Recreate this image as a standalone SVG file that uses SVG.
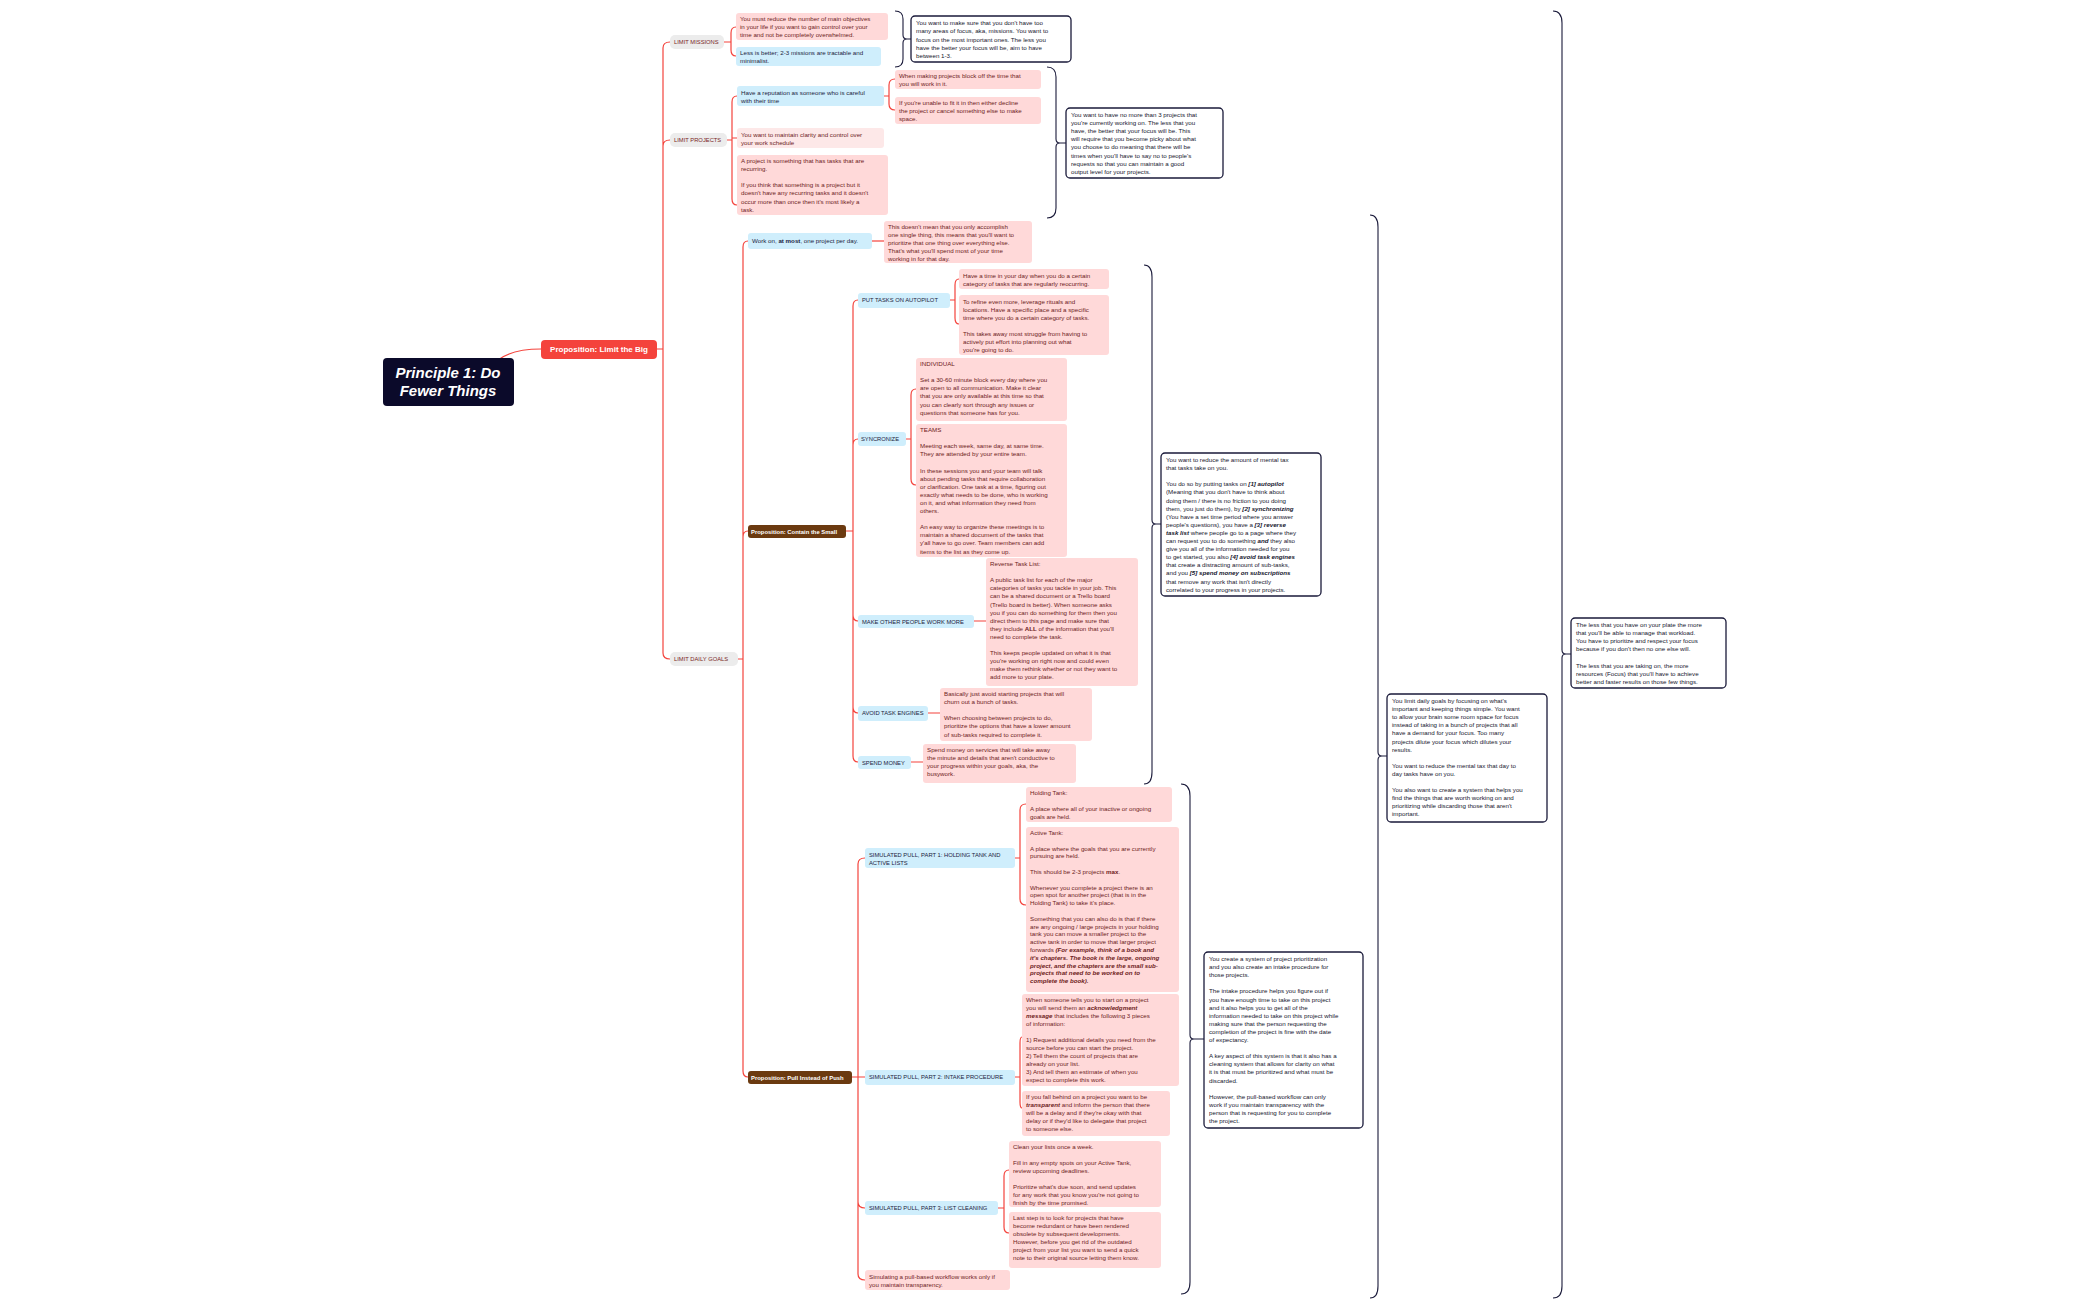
<svg xmlns="http://www.w3.org/2000/svg" width="2099" height="1300" viewBox="0 0 2099 1300">
<style>
text{font-family:"Liberation Sans",Arial,sans-serif;font-size:6.2px}
.p{fill:#ffd9d9}.pl{fill:#fde8e8}.b{fill:#cfeefc}.g{fill:#ececec}
.tp{fill:#6e1c1c}.tb{fill:#1b2340}.tg{fill:#7a1f1f}
.c{fill:#fff;stroke:#1a1a3a;stroke-width:1.3}
.tc{fill:#16162e}
.ln{fill:none;stroke:#f4433c;stroke-width:1.2}
.br{fill:none;stroke:#1a1a3a;stroke-width:1.1}
.bi{font-weight:bold;font-style:italic}.bd{font-weight:bold}
.sm{font-size:5.8px}
</style>
<g id="connectors">
<path class="ln" d="M498 360 Q512 349 541 349"/>
<path class="ln" d="M657 349 H663 M663 349 V48 Q663 42 670 42 M663 349 V146 Q663 140 670 140 M663 349 V653 Q663 659 670 659"/>
<path class="ln" d="M724 42 H731 M731 42 V33 Q731 27 736 27 M731 42 V50 Q731 56 736 56"/>
<path class="ln" d="M727 140 H732 M732 140 V102 Q732 96 737 96 M732 140 V138 H737 M732 140 V199 Q732 205 737 205"/>
<path class="ln" d="M884 96 H889 M889 96 V85 Q889 79 895 79 M889 96 V104 Q889 110 895 110"/>
<path class="ln" d="M738 659 H743 M743 659 V247 Q743 241 748 241 M743 659 V537 Q743 531 748 531 M743 659 V1071 Q743 1077 748 1077"/>
<path class="ln" d="M872 241 H884"/>
<path class="ln" d="M846 531 H853 M853 531 V306 Q853 300 858 300 M853 531 V445 Q853 439 858 439 M853 531 V615 Q853 621 858 621 M853 531 V707 Q853 713 858 713 M853 531 V756 Q853 762 858 762"/>
<path class="ln" d="M950 300 H955 M955 300 V285 Q955 279 959 279 M955 300 V318 Q955 324 959 324"/>
<path class="ln" d="M906 439 H911 M911 439 V395 Q911 389 916 389 M911 439 V479 Q911 485 916 485"/>
<path class="ln" d="M974 621 H986 M928 713 H940 M911 762 H923"/>
<path class="ln" d="M852 1077 H858 M858 1077 V864 Q858 858 865 858 M858 1077 H865 M858 1077 V1202 Q858 1208 865 1208 M858 1077 V1274 Q858 1280 865 1280"/>
<path class="ln" d="M1015 858 H1020 M1020 858 V810 Q1020 804 1026 804 M1020 858 V899 Q1020 905 1026 905"/>
<path class="ln" d="M1015 1077 H1020 M1020 1077 V1043 Q1020 1037 1022 1037 M1020 1077 V1102 Q1020 1108 1022 1108"/>
<path class="ln" d="M998 1208 H1004 M1004 1208 V1176 Q1004 1170 1009 1170 M1004 1208 V1227 Q1004 1233 1009 1233"/>
<path class="br" d="M895 11 Q903 11 903 19 V35 Q903 39 907 39 Q903 39 903 43 V59 Q903 67 895 67 M907 39 H911"/>
<path class="br" d="M1047 67 Q1056 67 1056 77 V139 Q1056 143 1060 143 Q1056 143 1056 147 V208 Q1056 218 1047 218 M1060 143 H1066"/>
<path class="br" d="M1144 265 Q1152 265 1152 277 V520 Q1152 524 1156 524 Q1152 524 1152 528 V772 Q1152 784 1144 784 M1156 524 H1161"/>
<path class="br" d="M1181 784 Q1190 784 1190 796 V1035 Q1190 1039 1194 1039 Q1190 1039 1190 1043 V1282 Q1190 1294 1181 1294 M1194 1039 H1204"/>
<path class="br" d="M1370 215 Q1378 215 1378 227 V752 Q1378 756 1382 756 Q1378 756 1378 760 V1286 Q1378 1298 1370 1298 M1382 756 H1387"/>
<path class="br" d="M1553 11 Q1562 11 1562 23 V650 Q1562 654 1566 654 Q1562 654 1562 658 V1286 Q1562 1298 1553 1298 M1566 654 H1571"/>
</g>
<g id="root"><rect x="383" y="358" width="131" height="48" rx="4" fill="#0b0a2a"/>
<text x="448" y="378" text-anchor="middle" fill="#fff" class="bi" style="font-size:15px">Principle 1: Do</text>
<text x="448" y="396" text-anchor="middle" fill="#fff" class="bi" style="font-size:15px">Fewer Things</text></g>
<g id="limit-big"><rect x="541" y="340" width="116" height="19" rx="4" fill="#f4433c"/>
<text x="599" y="352" text-anchor="middle" fill="#fff" class="bd" style="font-size:8px">Proposition: Limit the Big</text></g>
<g id="limit-missions"><rect class="g" x="670" y="35" width="54" height="14" rx="5"/><text class="tg sm" x="674" y="44.3">LIMIT MISSIONS</text></g>
<g id="limit-projects"><rect class="g" x="670" y="133" width="57" height="14" rx="5"/><text class="tg sm" x="674" y="142.3">LIMIT PROJECTS</text></g>
<g id="limit-daily"><rect class="g" x="670" y="652" width="68" height="14" rx="5"/><text class="tg sm" x="674" y="661.3">LIMIT DAILY GOALS</text></g>
<g id="m1"><rect class="p" x="736" y="13" width="152" height="27" rx="3"/><text class="tp" x="740" y="21"><tspan x="740">You must reduce the number of main objectives</tspan><tspan x="740" dy="8.1">in your life if you want to gain control over your</tspan><tspan x="740" dy="8.1">time and not be completely overwhelmed.</tspan></text></g>
<g id="m2"><rect class="b" x="736" y="47" width="145" height="19" rx="3"/><text class="tb" x="740" y="55"><tspan x="740">Less is better; 2-3 missions are tractable and</tspan><tspan x="740" dy="8.1">minimalist.</tspan></text></g>
<g id="p1"><rect class="b" x="737" y="86" width="147" height="20" rx="3"/><text class="tb" x="741" y="94.5"><tspan x="741">Have a reputation as someone who is careful</tspan><tspan x="741" dy="8.1">with their time</tspan></text></g>
<g id="p1a"><rect class="p" x="895" y="70" width="146" height="19" rx="3"/><text class="tp" x="899" y="78"><tspan x="899">When making projects block off the time that</tspan><tspan x="899" dy="8.1">you will work in it.</tspan></text></g>
<g id="p1b"><rect class="p" x="895" y="97" width="146" height="27" rx="3"/><text class="tp" x="899" y="105"><tspan x="899">If you're unable to fit it in then either decline</tspan><tspan x="899" dy="8.1">the project or cancel something else to make</tspan><tspan x="899" dy="8.1">space.</tspan></text></g>
<g id="p2"><rect class="pl" x="737" y="128" width="147" height="20" rx="3"/><text class="tp" x="741" y="136.5"><tspan x="741">You want to maintain clarity and control over</tspan><tspan x="741" dy="8.1">your work schedule</tspan></text></g>
<g id="p3"><rect class="p" x="737" y="155" width="151" height="60" rx="3"/><text class="tp" x="741" y="163"><tspan x="741">A project is something that has tasks that are</tspan><tspan x="741" dy="8.1">recurring.</tspan><tspan x="741" dy="16.2">If you think that something is a project but it</tspan><tspan x="741" dy="8.1">doesn't have any recurring tasks and it doesn't</tspan><tspan x="741" dy="8.1">occur more than once then it's most likely a</tspan><tspan x="741" dy="8.1">task.</tspan></text></g>
<g id="d1"><rect class="b" x="748" y="233" width="124" height="16" rx="3"/><text class="tb" x="752" y="243.3">Work on, <tspan class="bd">at most</tspan>, one project per day.</text></g>
<g id="d1a"><rect class="p" x="884" y="221" width="148" height="42" rx="3"/><text class="tp" x="888" y="229"><tspan x="888">This doesn't mean that you only accomplish</tspan><tspan x="888" dy="8.1">one single thing, this means that you'll want to</tspan><tspan x="888" dy="8.1">prioritize that one thing over everything else.</tspan><tspan x="888" dy="8.1">That's what you'll spend most of your time</tspan><tspan x="888" dy="8.1">working in for that day.</tspan></text></g>
<g id="contain"><rect x="748" y="525" width="98" height="13" rx="3" fill="#6b3a10"/><text x="751" y="534" fill="#fff" class="bd" style="font-size:5.9px">Proposition: Contain the Small</text></g>
<g id="auto"><rect class="b" x="858" y="293" width="92" height="15" rx="3"/><text class="tb sm" x="862" y="302.3">PUT TASKS ON AUTOPILOT</text></g>
<g id="auto1"><rect class="p" x="959" y="269" width="150" height="20" rx="3"/><text class="tp" x="963" y="277.5"><tspan x="963">Have a time in your day when you do a certain</tspan><tspan x="963" dy="8.1">category of tasks that are regularly reocurring.</tspan></text></g>
<g id="auto2"><rect class="p" x="959" y="295" width="150" height="60" rx="3"/><text class="tp" x="963" y="303.5"><tspan x="963">To refine even more, leverage rituals and</tspan><tspan x="963" dy="8.1">locations. Have a specific place and a specific</tspan><tspan x="963" dy="8.1">time where you do a certain category of tasks.</tspan><tspan x="963" dy="16.2">This takes away most struggle from having to</tspan><tspan x="963" dy="8.1">actively put effort into planning out what</tspan><tspan x="963" dy="8.1">you're going to do.</tspan></text></g>
<g id="sync"><rect class="b" x="858" y="432" width="48" height="14" rx="3"/><text class="tb sm" x="861" y="441.3">SYNCRONIZE</text></g>
<g id="sync1"><rect class="p" x="916" y="358" width="151" height="63" rx="3"/><text class="tp" x="920" y="366"><tspan x="920">INDIVIDUAL</tspan><tspan x="920" dy="16.2">Set a 30-60 minute block every day where you</tspan><tspan x="920" dy="8.1">are open to all communication. Make it clear</tspan><tspan x="920" dy="8.1">that you are only available at this time so that</tspan><tspan x="920" dy="8.1">you can clearly sort through any issues or</tspan><tspan x="920" dy="8.1">questions that someone has for you.</tspan></text></g>
<g id="sync2"><rect class="p" x="916" y="424" width="151" height="133" rx="3"/><text class="tp" x="920" y="432"><tspan x="920">TEAMS</tspan><tspan x="920" dy="16.2">Meeting each week, same day, at same time.</tspan><tspan x="920" dy="8.1">They are attended by your entire team.</tspan><tspan x="920" dy="16.2">In these sessions you and your team will talk</tspan><tspan x="920" dy="8.1">about pending tasks that require collaboration</tspan><tspan x="920" dy="8.1">or clarification. One task at a time, figuring out</tspan><tspan x="920" dy="8.1">exactly what needs to be done, who is working</tspan><tspan x="920" dy="8.1">on it, and what information they need from</tspan><tspan x="920" dy="8.1">others.</tspan><tspan x="920" dy="16.2">An easy way to organize these meetings is to</tspan><tspan x="920" dy="8.1">maintain a shared document of the tasks that</tspan><tspan x="920" dy="8.1">y'all have to go over. Team members can add</tspan><tspan x="920" dy="8.1">items to the list as they come up.</tspan></text></g>
<g id="make"><rect class="b" x="858" y="615" width="116" height="13" rx="3"/><text class="tb sm" x="862" y="623.6">MAKE OTHER PEOPLE WORK MORE</text></g>
<g id="make1"><rect class="p" x="986" y="558" width="152" height="128" rx="3"/><text class="tp" x="990" y="566"><tspan x="990">Reverse Task List:</tspan><tspan x="990" dy="16.2">A public task list for each of the major</tspan><tspan x="990" dy="8.1">categories of tasks you tackle in your job. This</tspan><tspan x="990" dy="8.1">can be a shared document or a Trello board</tspan><tspan x="990" dy="8.1">(Trello board is better). When someone asks</tspan><tspan x="990" dy="8.1">you if you can do something for them then you</tspan><tspan x="990" dy="8.1">direct them to this page and make sure that</tspan><tspan x="990" dy="8.1">they include <tspan class="bd">ALL</tspan> of the information that you'll</tspan><tspan x="990" dy="8.1">need to complete the task.</tspan><tspan x="990" dy="16.2">This keeps people updated on what it is that</tspan><tspan x="990" dy="8.1">you're working on right now and could even</tspan><tspan x="990" dy="8.1">make them rethink whether or not they want to</tspan><tspan x="990" dy="8.1">add more to your plate.</tspan></text></g>
<g id="avoid"><rect class="b" x="858" y="706" width="70" height="15" rx="3"/><text class="tb sm" x="862" y="715.3">AVOID TASK ENGINES</text></g>
<g id="avoid1"><rect class="p" x="940" y="688" width="152" height="53" rx="3"/><text class="tp" x="944" y="696"><tspan x="944">Basically just avoid starting projects that will</tspan><tspan x="944" dy="8.1">churn out a bunch of tasks.</tspan><tspan x="944" dy="16.2">When choosing between projects to do,</tspan><tspan x="944" dy="8.1">prioritize the options that have a lower amount</tspan><tspan x="944" dy="8.1">of sub-tasks required to complete it.</tspan></text></g>
<g id="spend"><rect class="b" x="858" y="756" width="53" height="13" rx="3"/><text class="tb sm" x="862" y="764.6">SPEND MONEY</text></g>
<g id="spend1"><rect class="p" x="923" y="744" width="153" height="39" rx="3"/><text class="tp" x="927" y="752"><tspan x="927">Spend money on services that will take away</tspan><tspan x="927" dy="8.1">the minute and details that aren't conductive to</tspan><tspan x="927" dy="8.1">your progress within your goals, aka, the</tspan><tspan x="927" dy="8.1">busywork.</tspan></text></g>
<g id="pull"><rect x="748" y="1071" width="104" height="13" rx="3" fill="#6b3a10"/><text x="751" y="1080" fill="#fff" class="bd" style="font-size:5.9px">Proposition: Pull Instead of Push</text></g>
<g id="s1"><rect class="b" x="865" y="848" width="150" height="20" rx="3"/><text class="tb sm" x="869" y="856.5"><tspan x="869">SIMULATED PULL, PART 1: HOLDING TANK AND</tspan><tspan x="869" dy="8.1">ACTIVE LISTS</tspan></text></g>
<g id="s1a"><rect class="p" x="1026" y="787" width="146" height="35" rx="3"/><text class="tp" x="1030" y="795"><tspan x="1030">Holding Tank:</tspan><tspan x="1030" dy="16.2">A place where all of your inactive or ongoing</tspan><tspan x="1030" dy="8.1">goals are held.</tspan></text></g>
<g id="s1b"><rect class="p" x="1026" y="827" width="153" height="165" rx="3"/><text class="tp" x="1030" y="835"><tspan x="1030">Active Tank:</tspan><tspan x="1030" dy="15.6">A place where the goals that you are currently</tspan><tspan x="1030" dy="7.8">pursuing are held.</tspan><tspan x="1030" dy="15.6">This should be 2-3 projects <tspan class="bd">max</tspan>.</tspan><tspan x="1030" dy="15.6">Whenever you complete a project there is an</tspan><tspan x="1030" dy="7.8">open spot for another project (that is in the</tspan><tspan x="1030" dy="7.8">Holding Tank) to take it's place.</tspan><tspan x="1030" dy="15.6">Something that you can also do is that if there</tspan><tspan x="1030" dy="7.8">are any ongoing / large projects in your holding</tspan><tspan x="1030" dy="7.8">tank you can move a smaller project to the</tspan><tspan x="1030" dy="7.8">active tank in order to move that larger project</tspan><tspan x="1030" dy="7.8">forwards <tspan class="bi">(For example, think of a book and</tspan></tspan><tspan x="1030" dy="7.8" class="bi">it's chapters. The book is the large, ongoing</tspan><tspan x="1030" dy="7.8" class="bi">project, and the chapters are the small sub-</tspan><tspan x="1030" dy="7.8" class="bi">projects that need to be worked on to</tspan><tspan x="1030" dy="7.8" class="bi">complete the book).</tspan></text></g>
<g id="s2"><rect class="b" x="865" y="1070" width="150" height="15" rx="3"/><text class="tb sm" x="869" y="1079.3">SIMULATED PULL, PART 2: INTAKE PROCEDURE</text></g>
<g id="s2a"><rect class="p" x="1022" y="994" width="157" height="92" rx="3"/><text class="tp" x="1026" y="1002"><tspan x="1026">When someone tells you to start on a project</tspan><tspan x="1026" dy="8">you will send them an <tspan class="bi">acknowledgment</tspan></tspan><tspan x="1026" dy="8"><tspan class="bi">message</tspan> that includes the following 3 pieces</tspan><tspan x="1026" dy="8">of information:</tspan><tspan x="1026" dy="16">1) Request additional details you need from the</tspan><tspan x="1026" dy="8">source before you can start the project.</tspan><tspan x="1026" dy="8">2) Tell them the count of projects that are</tspan><tspan x="1026" dy="8">already on your list.</tspan><tspan x="1026" dy="8">3) And tell them an estimate of when you</tspan><tspan x="1026" dy="8">expect to complete this work.</tspan></text></g>
<g id="s2b"><rect class="p" x="1022" y="1091" width="148" height="45" rx="3"/><text class="tp" x="1026" y="1099"><tspan x="1026">If you fall behind on a project you want to be</tspan><tspan x="1026" dy="8"><tspan class="bi">transparent</tspan> and inform the person that there</tspan><tspan x="1026" dy="8">will be a delay and if they're okay with that</tspan><tspan x="1026" dy="8">delay or if they'd like to delegate that project</tspan><tspan x="1026" dy="8">to someone else.</tspan></text></g>
<g id="s3"><rect class="b" x="865" y="1201" width="133" height="14" rx="3"/><text class="tb sm" x="869" y="1210.3">SIMULATED PULL, PART 3: LIST CLEANING</text></g>
<g id="s3a"><rect class="p" x="1009" y="1141" width="152" height="66" rx="3"/><text class="tp" x="1013" y="1149"><tspan x="1013">Clean your lists once a week.</tspan><tspan x="1013" dy="16">Fill in any empty spots on your Active Tank,</tspan><tspan x="1013" dy="8">review upcoming deadlines.</tspan><tspan x="1013" dy="16">Prioritize what's due soon, and send updates</tspan><tspan x="1013" dy="8">for any work that you know you're not going to</tspan><tspan x="1013" dy="8">finish by the time promised.</tspan></text></g>
<g id="s3b"><rect class="p" x="1009" y="1212" width="152" height="56" rx="3"/><text class="tp" x="1013" y="1220"><tspan x="1013">Last step is to look for projects that have</tspan><tspan x="1013" dy="8">become redundant or have been rendered</tspan><tspan x="1013" dy="8">obsolete by subsequent developments.</tspan><tspan x="1013" dy="8">However, before you get rid of the outdated</tspan><tspan x="1013" dy="8">project from your list you want to send a quick</tspan><tspan x="1013" dy="8">note to their original source letting them know.</tspan></text></g>
<g id="s4"><rect class="p" x="865" y="1270" width="145" height="20" rx="3"/><text class="tp" x="869" y="1278.5"><tspan x="869">Simulating a pull-based workflow works only if</tspan><tspan x="869" dy="8">you maintain transparency.</tspan></text></g>
<g id="c1"><rect class="c" x="911" y="16" width="160" height="46" rx="4"/><text class="tc" x="916" y="25"><tspan x="916">You want to make sure that you don't have too</tspan><tspan x="916" dy="8.3">many areas of focus, aka, missions. You want to</tspan><tspan x="916" dy="8.3">focus on the most important ones. The less you</tspan><tspan x="916" dy="8.3">have the better your focus will be, aim to have</tspan><tspan x="916" dy="8.3">between 1-3.</tspan></text></g>
<g id="c2"><rect class="c" x="1066" y="108" width="157" height="70" rx="4"/><text class="tc" x="1071" y="117"><tspan x="1071">You want to have no more than 3 projects that</tspan><tspan x="1071" dy="8.1">you're currently working on. The less that you</tspan><tspan x="1071" dy="8.1">have, the better that your focus will be. This</tspan><tspan x="1071" dy="8.1">will require that you become picky about what</tspan><tspan x="1071" dy="8.1">you choose to do meaning that there will be</tspan><tspan x="1071" dy="8.1">times when you'll have to say no to people's</tspan><tspan x="1071" dy="8.1">requests so that you can maintain a good</tspan><tspan x="1071" dy="8.1">output level for your projects.</tspan></text></g>
<g id="c3"><rect class="c" x="1161" y="453" width="160" height="143" rx="4"/><text class="tc" x="1166" y="462"><tspan x="1166">You want to reduce the amount of mental tax</tspan><tspan x="1166" dy="8.1">that tasks take on you.</tspan><tspan x="1166" dy="16.2">You do so by putting tasks on <tspan class="bi">[1] autopilot</tspan></tspan><tspan x="1166" dy="8.1">(Meaning that you don't have to think about</tspan><tspan x="1166" dy="8.1">doing them / there is no friction to you doing</tspan><tspan x="1166" dy="8.1">them, you just do them), by <tspan class="bi">[2] synchronizing</tspan></tspan><tspan x="1166" dy="8.1">(You have a set time period where you answer</tspan><tspan x="1166" dy="8.1">people's questions), you have a <tspan class="bi">[3] reverse</tspan></tspan><tspan x="1166" dy="8.1"><tspan class="bi">task list</tspan> where people go to a page where they</tspan><tspan x="1166" dy="8.1">can request you to do something <tspan class="bi">and</tspan> they also</tspan><tspan x="1166" dy="8.1">give you all of the information needed for you</tspan><tspan x="1166" dy="8.1">to get started, you also <tspan class="bi">[4] avoid task engines</tspan></tspan><tspan x="1166" dy="8.1">that create a distracting amount of sub-tasks,</tspan><tspan x="1166" dy="8.1">and you <tspan class="bi">[5] spend money on subscriptions</tspan></tspan><tspan x="1166" dy="8.1">that remove any work that isn't directly</tspan><tspan x="1166" dy="8.1">correlated to your progress in your projects.</tspan></text></g>
<g id="c4"><rect class="c" x="1204" y="952" width="159" height="176" rx="4"/><text class="tc" x="1209" y="961"><tspan x="1209">You create a system of project prioritization</tspan><tspan x="1209" dy="8.1">and you also create an intake procedure for</tspan><tspan x="1209" dy="8.1">those projects.</tspan><tspan x="1209" dy="16.2">The intake procedure helps you figure out if</tspan><tspan x="1209" dy="8.1">you have enough time to take on this project</tspan><tspan x="1209" dy="8.1">and it also helps you to get all of the</tspan><tspan x="1209" dy="8.1">information needed to take on this project while</tspan><tspan x="1209" dy="8.1">making sure that the person requesting the</tspan><tspan x="1209" dy="8.1">completion of the project is fine with the date</tspan><tspan x="1209" dy="8.1">of expectancy.</tspan><tspan x="1209" dy="16.2">A key aspect of this system is that it also has a</tspan><tspan x="1209" dy="8.1">cleaning system that allows for clarity on what</tspan><tspan x="1209" dy="8.1">it is that must be prioritized and what must be</tspan><tspan x="1209" dy="8.1">discarded.</tspan><tspan x="1209" dy="16.2">However, the pull-based workflow can only</tspan><tspan x="1209" dy="8.1">work if you maintain transparency with the</tspan><tspan x="1209" dy="8.1">person that is requesting for you to complete</tspan><tspan x="1209" dy="8.1">the project.</tspan></text></g>
<g id="c5"><rect class="c" x="1387" y="694" width="160" height="128" rx="4"/><text class="tc" x="1392" y="703"><tspan x="1392">You limit daily goals by focusing on what's</tspan><tspan x="1392" dy="8.1">important and keeping things simple. You want</tspan><tspan x="1392" dy="8.1">to allow your brain some room space for focus</tspan><tspan x="1392" dy="8.1">instead of taking in a bunch of projects that all</tspan><tspan x="1392" dy="8.1">have a demand for your focus. Too many</tspan><tspan x="1392" dy="8.1">projects dilute your focus which dilutes your</tspan><tspan x="1392" dy="8.1">results.</tspan><tspan x="1392" dy="16.2">You want to reduce the mental tax that day to</tspan><tspan x="1392" dy="8.1">day tasks have on you.</tspan><tspan x="1392" dy="16.2">You also want to create a system that helps you</tspan><tspan x="1392" dy="8.1">find the things that are worth working on and</tspan><tspan x="1392" dy="8.1">prioritizing while discarding those that aren't</tspan><tspan x="1392" dy="8.1">important.</tspan></text></g>
<g id="c6"><rect class="c" x="1571" y="618" width="155" height="70" rx="4"/><text class="tc" x="1576" y="627"><tspan x="1576">The less that you have on your plate the more</tspan><tspan x="1576" dy="8.1">that you'll be able to manage that workload.</tspan><tspan x="1576" dy="8.1">You have to prioritize and respect your focus</tspan><tspan x="1576" dy="8.1">because if you don't then no one else will.</tspan><tspan x="1576" dy="16.2">The less that you are taking on, the more</tspan><tspan x="1576" dy="8.1">resources (Focus) that you'll have to achieve</tspan><tspan x="1576" dy="8.1">better and faster results on those few things.</tspan></text></g>
</svg>
